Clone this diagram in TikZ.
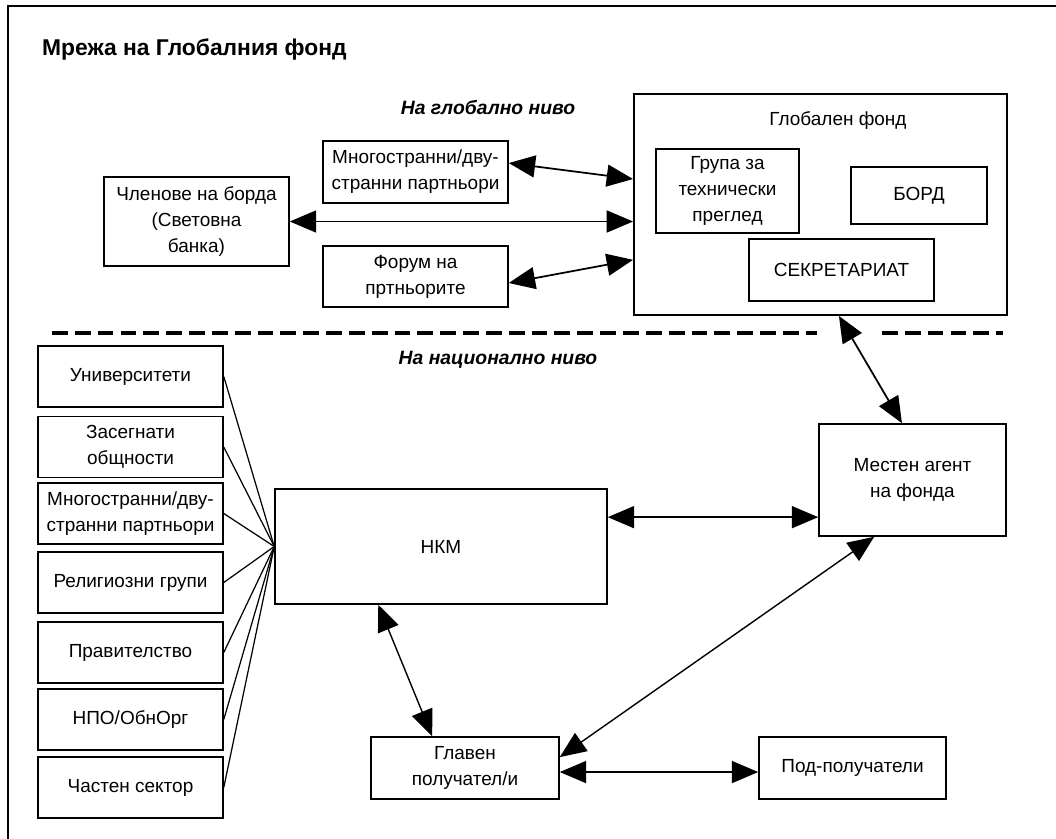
\documentclass[tikz,border=0pt]{standalone}
\usepackage{fontspec}
\setmainfont{Liberation Sans}
\usetikzlibrary{arrows.meta}

\begin{document}
\begin{tikzpicture}[x=0.02cm, y=-0.02cm, >={Triangle[length=15pt,width=12.5pt]},
  box/.style={draw, line width=0.9pt, inner sep=0pt, align=center,
    font=\fontsize{10.8}{14.7}\selectfont},
  side/.style={box, minimum width=3.7cm, minimum height=1.22cm},
  level/.style={font=\bfseries\itshape\fontsize{11}{13}\selectfont},
  link/.style={<->, line width=1pt},
  spoke/.style={line width=0.7pt}]
  \useasboundingbox (0,0) rectangle (1056,839);
  % Draw outer frame
  \draw[line width=1.3pt] (8,870) -- (8,6) -- (1090,6);
  \node[anchor=base west, font=\bfseries\fontsize{13}{15}\selectfont] (title) at (36,55) {Мрежа на Глобалния фонд};
  % Global level
  \node[level] (glob) at (488,108) {На глобално ниво};
  \node[box, minimum width=3.7cm, minimum height=1.24cm] (mpg) at (415.5,172) {Многостранни/дву-\\странни партньори};
  \node[box, minimum width=3.7cm, minimum height=1.78cm] (bm) at (196.5,221.5) {Членове на борда\\(Световна\\банка)};
  \node[box, minimum width=3.7cm, minimum height=1.22cm] (fp) at (415.5,276.5) {Форум на\\пртньорите};
  \node[box, line width=1.1pt, minimum width=7.46cm, minimum height=4.42cm] (gf) at (820.5,204.5) {};
  \node[font=\fontsize{10.8}{14.7}\selectfont] (gflabel) at (838,121) {Глобален фонд};
  \node[box, minimum width=2.86cm, minimum height=1.68cm] (trp) at (727.5,191) {Група за\\технически\\преглед};
  \node[box, minimum width=2.72cm, minimum height=1.14cm] (brd) at (919,195.5) {БОРД};
  \node[box, minimum width=3.7cm, minimum height=1.24cm] (sec) at (841.5,270) {СЕКРЕТАРИАТ};
  % Global arrows
  \draw[link] ([yshift=5.1pt]mpg.east) -- ([yshift=14.5pt]gf.west);
  \draw[link] (bm.east) -- (bm.east -| gf.west);
  \draw[link] ([yshift=-3.7pt]fp.east) -- ([yshift=-31.5pt]gf.west);
  % Divider between levels
  \draw[line width=2.2pt, dash pattern=on 9pt off 4pt] (52,333) -- (817,333);
  \draw[line width=2.2pt, dash pattern=on 9pt off 4pt] (882,333) -- (1003,333);
  % National level
  \node[level] (nat) at (498,360) {На национално ниво};
  \node[side] (uni) at (130.5,376.5) {Университети};
  \node[side] (com) at (130.5,447) {Засегнати\\общности};
  \node[side] (mpn) at (130.5,513.5) {Многостранни/дву-\\странни партньори};
  \node[side] (rel) at (130.5,582.5) {Религиозни групи};
  \node[side] (gov) at (130.5,652.5) {Правителство};
  \node[side] (ngo) at (130.5,719.5) {НПО/ОбнОрг};
  \node[side] (pri) at (130.5,787.5) {Частен сектор};
  \node[box, minimum width=6.64cm, minimum height=2.3cm] (nkm) at (441,546.5) {НКМ};
  \node[box, minimum width=3.74cm, minimum height=2.24cm] (lfa) at (912.5,480) {Местен агент\\на фонда};
  \node[box, minimum width=3.76cm, minimum height=1.24cm] (pr) at (465,768) {Главен\\получател/и};
  \node[box, minimum width=3.74cm, minimum height=1.24cm] (sr) at (852.5,768) {Под-получатели};
  % Spokes into the CCM
  \foreach \n in {uni,com,mpn,rel,gov,ngo,pri}
    \draw[spoke] (\n.east) -- (nkm.west);
  % National arrows
  \draw[link] ([xshift=10.5pt]gf.south) -- ([xshift=-6pt]lfa.north);
  \draw[link] ([yshift=16.7pt]nkm.east) -- ([yshift=16.7pt]nkm.east -| lfa.west);
  \draw[link, line width=0.8pt] ([xshift=-35.7pt]nkm.south) -- ([xshift=-18.7pt]pr.north);
  \draw[link, line width=0.8pt] ([xshift=-21.8pt]lfa.south) -- ([yshift=6.2pt]pr.east);
  \draw[link] ([yshift=-2.3pt]pr.east) -- ([yshift=-2.3pt]pr.east -| sr.west);
\end{tikzpicture}
\end{document}
